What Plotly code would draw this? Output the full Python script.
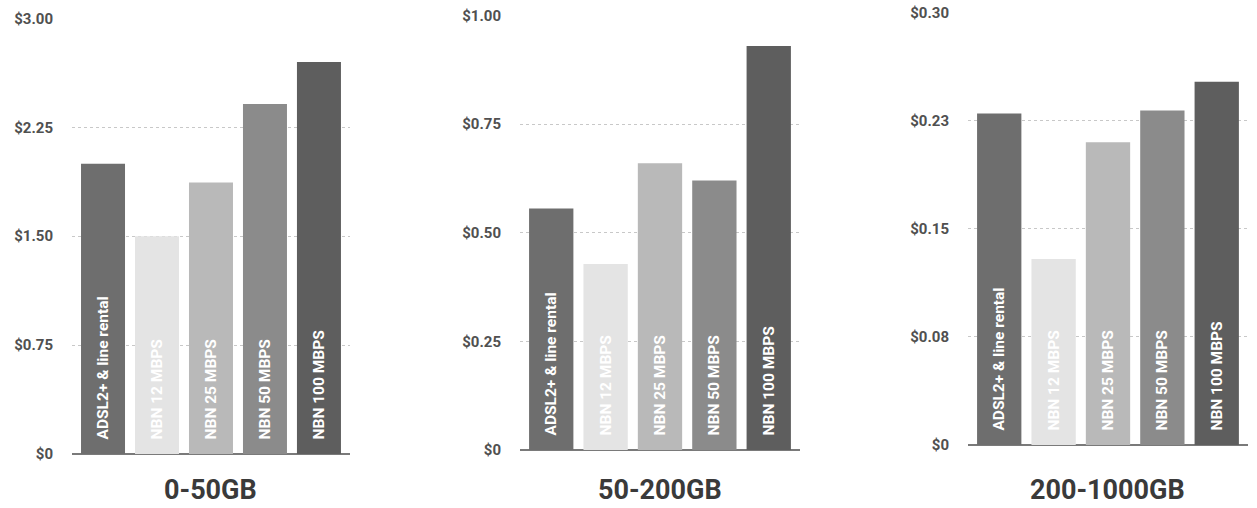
import plotly.graph_objects as go

categories = ["ADSL2+ & line rental", "NBN 12 MBPS", "NBN 25 MBPS", "NBN 50 MBPS", "NBN 100 MBPS"]
panel_titles = ["0-50GB", "50-200GB", "200-1000GB"]
values_0_50 = [2.00, 1.50, 1.87, 2.41, 2.70]
values_50_200 = [0.556, 0.428, 0.66, 0.62, 0.93]
values_200_1000 = [0.230, 0.129, 0.210, 0.232, 0.252]
tickvals_0_50 = [0, 0.75, 1.5, 2.25, 3.0]
ticktext_0_50 = ["$0", "$0.75", "$1.50", "$2.25", "$3.00"]
tickvals_50_200 = [0, 0.25, 0.5, 0.75, 1.0]
ticktext_50_200 = ["$0", "$0.25", "$0.50", "$0.75", "$1.00"]
tickvals_200_1000 = [0, 0.075, 0.15, 0.225, 0.3]
ticktext_200_1000 = ["$0", "$0.08", "$0.15", "$0.23", "$0.30"]

bar_colors = ["#6e6e6e", "#e4e4e4", "#b9b9b9", "#8b8b8b", "#5e5e5e"]
FONT = "Roboto, Liberation Sans, sans-serif"

panels = [
    (values_0_50, tickvals_0_50, ticktext_0_50, [0, 3.0]),
    (values_50_200, tickvals_50_200, ticktext_50_200, [0, 1.0]),
    (values_200_1000, tickvals_200_1000, ticktext_200_1000, [0, 0.3]),
]
xdomains = [[0.0573, 0.2784], [0.4137, 0.6364], [0.7701, 0.9928]]
ydomains = [[0.0919, 0.9807], [0.1000, 0.9868], [0.1100, 0.9929]]

fig = go.Figure()
NB = "\u00a0"
for i, (vals, tv, tt, rng) in enumerate(panels):
    ax = "" if i == 0 else str(i + 1)
    fig.add_trace(go.Bar(
        x=categories, y=vals,
        marker=dict(color=bar_colors, line=dict(width=0)),
        text=[NB * 3 + c for c in categories],
        textposition="inside", insidetextanchor="start", textangle=-90,
        textfont=dict(family=FONT, size=15.5, color="white", weight="bold"),
        constraintext="none",
        xaxis="x" + ax, yaxis="y" + ax, showlegend=False, hoverinfo="skip",
    ))
    fig.update_layout(**{
        "xaxis" + ax: dict(domain=xdomains[i], anchor="y" + ax, showticklabels=False,
                           showgrid=False, zeroline=False, showline=False,
                           range=[-0.574, 4.574], fixedrange=True),
        "yaxis" + ax: dict(domain=ydomains[i], anchor="x" + ax, range=rng,
                           tickvals=tv, ticktext=tt, showgrid=True,
                           gridcolor="#c8c8c8", griddash="dot", gridwidth=1,
                           zeroline=True, zerolinecolor="#7a7a7a", zerolinewidth=2,
                           showline=False, ticks="", ticklabelstandoff=18,
                           tickfont=dict(family=FONT, size=15, color="#505050", weight="bold")),
    })
    fig.add_annotation(
        text=panel_titles[i], xref="paper", yref="paper",
        x=(xdomains[i][0] + xdomains[i][1]) / 2, y=0.0187,
        xanchor="center", yanchor="middle", showarrow=False,
        font=dict(family=FONT, size=27, color="#3a3a3a", weight="bold"),
    )

fig.update_layout(
    width=1257, height=508,
    margin=dict(l=0, r=0, t=0, b=0),
    paper_bgcolor="white", plot_bgcolor="white",
    bargap=0.185,
)
fig.write_html(
    "out.html",
    config={"displayModeBar": False},
    post_script="document.body.style.margin='0';document.body.style.overflow='hidden';",
)
